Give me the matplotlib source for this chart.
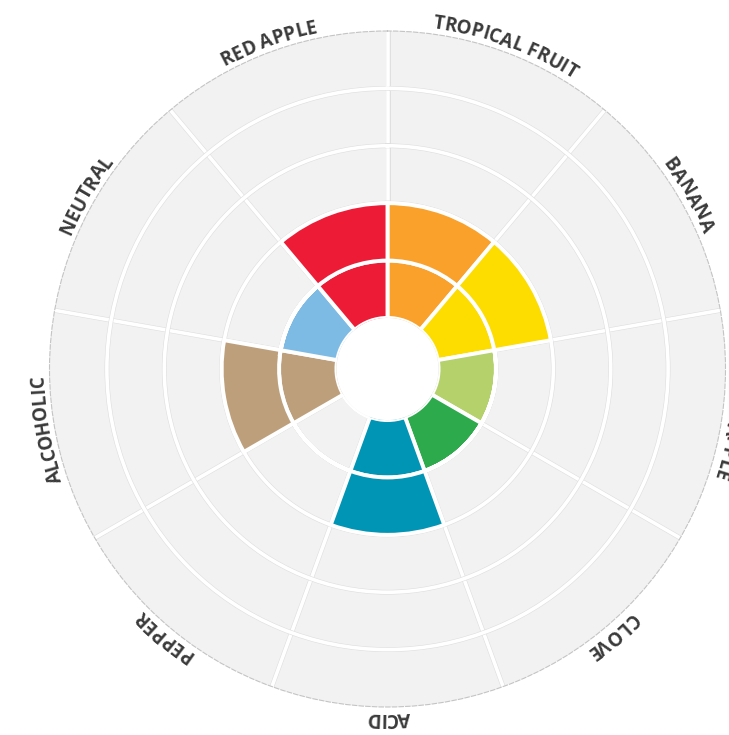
import numpy as np
import matplotlib.pyplot as plt
import matplotlib.patheffects as pe
from matplotlib.textpath import TextPath
from matplotlib.font_manager import FontProperties

# data (clockwise from top)
categories = ["TROPICAL FRUIT", "BANANA", "PINEAPPLE", "CLOVE", "ACID",
              "PEPPER", "ALCOHOLIC", "NEUTRAL", "RED APPLE"]
scores = [2, 2, 1, 1, 2, 0, 2, 1, 2]
colors = ["#F9A12A", "#FDDC00", "#B4D16C", "#2DAA4B", "#0195B5",
          "#BDBDBD", "#BDA07B", "#7DBBE5", "#EE1B36"]

DPI = 100
W, H = 729, 735
fig = plt.figure(figsize=(W / DPI, H / DPI), dpi=DPI)

# circle centre (387.5, 369) px, radius 338 px
R_OUT = 338
cx, cy = 387.5, H - 369
ax = fig.add_axes([(cx - R_OUT) / W, (cy - R_OUT) / H, 2 * R_OUT / W, 2 * R_OUT / H],
                  projection="polar")

RMAX = 5
RORIG = -0.89
ax.set_theta_zero_location("N")
ax.set_theta_direction(-1)
ax.set_ylim(0, RMAX)
ax.set_rorigin(RORIG)
ax.set_facecolor("#F2F2F2")
ax.patch.set_linewidth(0)

n = len(categories)
step = 2 * np.pi / n
theta = np.arange(n) * step + step / 2

# grid
ax.set_xticks(np.arange(n) * step)
ax.set_xticklabels([])
ax.set_yticks([1, 2, 3, 4])
ax.set_yticklabels([])
ax.set_axisbelow(True)
ax.grid(color="white", linewidth=2.6,
        path_effects=[pe.withStroke(linewidth=3.4, foreground="#DEDEDE")])
ax.spines["polar"].set_color("#C4C4C4")
ax.spines["polar"].set_linewidth(0.8)
ax.spines["polar"].set_linestyle((0, (4, 2)))
# inner spine visibility is reset on draw, so hide it by colour
ax.spines["inner"].set_color("none")
ax.spines["inner"].set_linewidth(0)

# stacked segments: first level, then second level
inner = [min(s, 1) for s in scores]
outer = [max(s - 1, 0) for s in scores]
ax.bar(theta, inner, width=step, bottom=0, color=colors,
       edgecolor="white", linewidth=2.8, zorder=3)
ax.bar(theta, outer, width=step, bottom=1, color=colors,
       edgecolor="white", linewidth=2.8, zorder=3)

# curved labels
fp = FontProperties(family="Open Sans", weight="bold", size=13.5)

def adv(s):
    w0 = TextPath((0, 0), "||", prop=fp).get_extents().width
    w1 = TextPath((0, 0), "|" + s + "|", prop=fp).get_extents().width
    return (w1 - w0) * DPI / 72

unit = R_OUT / (RMAX - RORIG)
r_lab = 5.1
R_px = (r_lab - RORIG) * unit

for name, t in zip(categories, theta):
    total = adv(name)
    for i, ch in enumerate(name):
        if ch == " ":
            continue
        pos = adv(name[:i]) + adv(ch) / 2 - total / 2
        a = t + pos / R_px
        ax.text(a, r_lab, ch, fontproperties=fp, color="#3A3A3A",
                rotation=-np.degrees(a), rotation_mode="anchor",
                ha="center", va="baseline", clip_on=False)

fig.savefig("out.png", dpi=DPI)
